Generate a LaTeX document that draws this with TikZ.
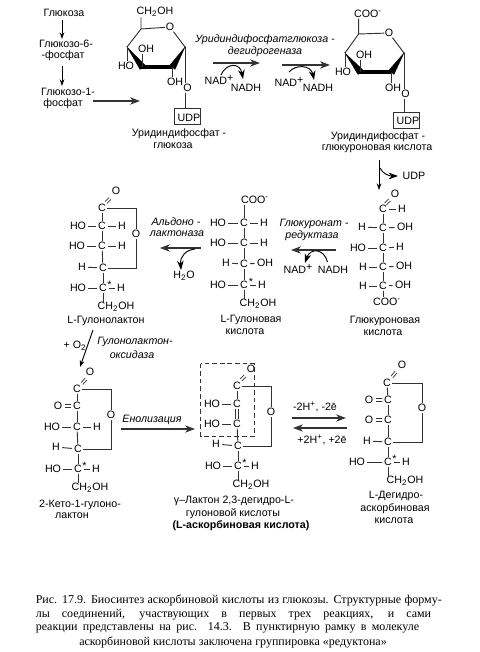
\documentclass[tikz,border=0pt]{standalone}
\usepackage{fontspec}
\setmainfont{Liberation Sans}
\newfontfamily\capfont{Liberation Serif}
\usetikzlibrary{arrows.meta}
\tikzset{
  atom/.style={inner sep=0.4pt,font=\fontsize{8}{9}\selectfont,text=black},
  lbl/.style={inner sep=0pt,font=\fontsize{8}{9}\selectfont,text=black},
  ital/.style={lbl,font=\fontsize{8}{9}\selectfont\itshape},
  capt/.style={inner sep=0pt,anchor=west,font=\capfont\fontsize{9}{10}\selectfont,text=black},
  bond/.style={draw=black!80,line width=0.7pt},
  hb/.style={bond,shorten <=1.2pt,shorten >=1.2pt},
  rxn/.style={draw=black!80,line width=0.8pt,-{Stealth[length=7.5pt,width=5.5pt]}},
  small/.style={draw=black,line width=0.7pt,-{Stealth[length=5pt,width=3.5pt]}},
  curved/.style={draw=black,line width=0.7pt,-{Stealth[length=7pt,width=5pt]}},
  wedge/.style={fill=black,draw=black,line width=0.2pt},
  udpbox/.style={draw=black!80,line width=0.7pt,inner sep=0pt,minimum width=19.5pt,minimum height=12.7pt}
}
\newcommand{\mns}{\textsuperscript{-}}
\newcommand{\pls}{\raisebox{2pt}{+}}
\newcommand{\rvl}[2]{\draw[bond] (#1) -- (#2);}
% horizontal and vertical double bonds between two named atoms
\newcommand{\hdbl}[2]{\draw[hb] ([yshift=0.9pt]#1.east) -- ([yshift=0.9pt]#2.west); \draw[hb] ([yshift=-0.9pt]#1.east) -- ([yshift=-0.9pt]#2.west);}
\newcommand{\vdbl}[2]{\draw[bond] ([xshift=-1pt]#1.south) -- ([xshift=-1pt]#2.north); \draw[bond] ([xshift=1pt]#1.south) -- ([xshift=1pt]#2.north);}
% short carbonyl double bond, from its lower-left point to its upper-right point
\newcommand{\cdbl}[4]{\draw[black!80,line width=0.55pt] (#1-0.9,#2-0.9) -- (#3-0.9,#4-0.9); \draw[black!80,line width=0.55pt] (#1+0.9,#2+0.9) -- (#3+0.9,#4+0.9);}
\begin{document}
\begin{tikzpicture}[x=0.75pt,y=-0.75pt]
\path[use as bounding box,fill=white] (0,0) rectangle (479,652);
% left column
\node[lbl] (g1) at (64,13) {Глюкоза};
\node[lbl] (g2) at (66,44) {Глюкозо-6-};
\node[lbl] (g3) at (63,56) {-фосфат};
\node[lbl] (g4) at (68,92) {Глюкозо-1-};
\node[lbl] (g5) at (63,104) {фосфат};
\coordinate (ar1) at (62,20); \coordinate (ar2) at (62,39);
\coordinate (ar3) at (62,66); \coordinate (ar4) at (62,86);
\coordinate (ar5) at (93,101); \coordinate (ar6) at (140,101);
\draw[small] (ar1) -- (ar2);
\draw[small] (ar3) -- (ar4);
\draw[rxn] (ar5) -- (ar6);
% ring 1
\node[atom] (ch1) at (155,12) {CH\textsubscript{2}OH};
\coordinate (r1a) at (141,29); \coordinate (r1b) at (127,47);
\coordinate (r1c) at (142,67); \coordinate (r1d) at (172,67);
\coordinate (r1e) at (185,47);
\node[atom] (r1o) at (170,27) {O};
\node[atom] (r1oh1) at (146,49) {OH};
\node[atom] (r1ho) at (126,66) {HO};
\node[atom] (r1oh2) at (175,82) {OH};
\node[atom] (r1o2) at (187.5,88) {O};
\node[udpbox] (udp1) at (187,116.5) {};
\node[atom] (udpt1) at (189,118) {UDP};
\draw[bond] (ch1.south -| r1a) -- (r1a) -- (r1o);
\draw[bond] (r1o) -- (r1e);
\draw[bond] (r1a) -- (r1b);
\fill[wedge] (r1b) -- (145,65) -- (140,69.5) -- cycle;
\draw[black,line width=3pt] (141,67) -- (173,67);
\fill[wedge] (r1e) -- (175,69.5) -- (170,65) -- cycle;
\draw[bond] (r1b) -- (r1ho.north -| r1b);
\draw[bond] (r1c) -- (r1oh1.south -| r1c);
\draw[bond] (r1d) -- (r1oh2.north -| r1d);
\draw[bond] (r1e) -- (r1o2.north -| r1e);
\draw[bond] (r1o2.south -| r1e) -- (udp1.north -| r1e);
\node[lbl] (n1) at (179,134) {Уридиндифосфат -};
\node[lbl] (n2) at (173,146) {глюкоза};
% enzyme 1
\node[ital] (e1a) at (265,40) {Уридиндифосфатглюкоза -};
\node[ital] (e1b) at (265,52) {дегидрогеназа};
\coordinate (t1a) at (213,63); \coordinate (t1b) at (260,63);
\coordinate (t2a) at (282,65); \coordinate (t2b) at (330,65);
\draw[rxn] (t1a) -- (t1b);
\draw[rxn] (t2a) -- (t2b);
\node[lbl] (nad1) at (219,80) {NAD\pls};
\node[lbl] (nadh1) at (246,88) {NADH};
\node[lbl] (nad2) at (289,82) {NAD\pls};
\node[lbl] (nadh2) at (318,88) {NADH};
\coordinate (c1a) at (221,75); \coordinate (c1b) at (243,79);
\coordinate (c2a) at (289,72); \coordinate (c2b) at (314,80);
\draw[curved] (c1a) .. controls (226,63) and (240,62) .. (c1b);
\draw[curved] (c2a) .. controls (296,64) and (311,65) .. (c2b);
% ring 2
\node[atom] (coo2) at (368,14) {COO\mns};
\coordinate (r2a) at (358.6,34); \coordinate (r2b) at (345,53);
\coordinate (r2c) at (360,72); \coordinate (r2d) at (391,72);
\coordinate (r2e) at (404,53);
\node[atom] (r2o) at (389,33) {O};
\node[atom] (r2oh1) at (364,55) {OH};
\node[atom] (r2ho) at (343,72) {HO};
\node[atom] (r2oh2) at (393,88) {OH};
\node[atom] (r2o2) at (405.5,94) {O};
\node[udpbox] (udp2) at (406,120.5) {};
\node[atom] (udpt2) at (408,121) {UDP};
\draw[bond] (coo2.south -| r2a) -- (r2a) -- (r2o);
\draw[bond] (r2o) -- (r2e);
\draw[bond] (r2a) -- (r2b);
\fill[wedge] (r2b) -- (363,70) -- (358,74.5) -- cycle;
\draw[black,line width=3pt] (359,72) -- (392,72);
\fill[wedge] (r2e) -- (394,74.5) -- (389,70) -- cycle;
\draw[bond] (r2b) -- (r2ho.north -| r2b);
\draw[bond] (r2c) -- (r2oh1.south -| r2c);
\draw[bond] (r2d) -- (r2oh2.north -| r2d);
\draw[bond] (r2e) -- (r2o2.north -| r2e);
\draw[bond] (r2o2.south -| r2e) -- (udp2.north -| r2e);
\node[lbl] (n3) at (378,137) {Уридиндифосфат -};
\node[lbl] (n4) at (377,149) {глюкуроновая кислота};
% UDP release
\node[lbl] (udp3) at (414,176) {UDP};
\coordinate (d1top) at (379,160); \coordinate (d2top) at (379,190); \coordinate (d3top) at (380,168);
\coordinate (d4top) at (398,176);
\draw[small] (d1top) -- (d2top);
\draw[curved] (d3top) .. controls (383,174) and (389,176) .. (d4top);
% glucuronic acid
\node[atom] (a0o) at (395,194) {O};
\node[atom] (a0) at (383,209) {C};
\node[atom] (a0h) at (402,209) {H};
\node[atom] (a1l) at (362,227) {H};
\node[atom] (a1c) at (383,228) {C};
\node[atom] (a1r) at (405,227) {OH};
\node[atom] (a2l) at (358,248) {HO};
\node[atom] (a2c) at (383,248) {C};
\node[atom] (a2r) at (400,247) {H};
\node[atom] (a3l) at (363,267) {H};
\node[atom] (a3c) at (383,267) {C};
\node[atom] (a3r) at (404,266) {OH};
\node[atom] (a4l) at (363,286) {H};
\node[atom] (a4c) at (383,286) {C};
\node[atom] (a4r) at (403,285) {OH};
\node[atom] (a5) at (387,302) {COO\mns};
\cdbl{385.5}{204}{389.5}{200}
\draw[hb] (a0) -- (a0h);
\foreach \u/\v in {a1l/a1c,a1c/a1r,a2l/a2c,a2c/a2r,a3l/a3c,a3c/a3r,a4l/a4c,a4c/a4r}{\draw[hb] (\u) -- (\v);}
\foreach \u/\v in {a0/a1c,a1c/a2c,a2c/a3c,a3c/a4c}{\rvl{\u}{\v}}
\draw[bond] (a4c) -- (a4c |- a5.north);
\node[lbl] (n5) at (385,321) {Глюкуроновая};
\node[lbl] (n6) at (383,333) {кислота};
% reductase
\node[ital] (e2a) at (314,224) {Глюкуронат -};
\node[ital] (e2b) at (312,236) {редуктаза};
\coordinate (f1a) at (336,250); \coordinate (f2a) at (291,250);
\draw[rxn] (f1a) -- (f2a);
\node[lbl] (nad3) at (298,269) {NAD\pls};
\node[lbl] (nadh3) at (333,270) {NADH};
\coordinate (f3a) at (327.5,262); \coordinate (f4a) at (305,263);
\draw[curved] (f3a) .. controls (324,248) and (310,248) .. (f4a);
% gulonic acid
\node[atom] (b0) at (255,200) {COO\mns};
\node[atom] (b1l) at (218,223) {HO};
\node[atom] (b1c) at (244,223) {C};
\node[atom] (b1r) at (264,223) {H};
\node[atom] (b2l) at (218,243) {HO};
\node[atom] (b2c) at (244,243) {C};
\node[atom] (b2r) at (264,243) {H};
\node[atom] (b3l) at (226,263) {H};
\node[atom] (b3c) at (244,264) {C};
\node[atom] (b3r) at (265,263) {OH};
\node[atom] (b4l) at (218,285) {HO};
\node[atom] (b4c) at (244,285) {C};
\node[atom] (b4r) at (262,285) {H};
\node[atom] (b4s) at (251,282) {*};
\node[atom] (b5) at (258,304) {CH\textsubscript{2}OH};
\foreach \u/\v in {b1l/b1c,b1c/b1r,b2l/b2c,b2c/b2r,b3l/b3c,b3c/b3r,b4l/b4c,b4c/b4r}{\draw[hb] (\u) -- (\v);}
\foreach \u/\v in {b1c/b2c,b2c/b3c,b3c/b4c}{\rvl{\u}{\v}}
\draw[bond] (b0.south -| b1c) -- (b1c);
\draw[bond] (b4c) -- (b4c |- b5.north);
\node[lbl] (n7) at (251,320) {L-Гулоновая};
\node[lbl] (n8) at (245,332) {кислота};
% aldonolactonase
\node[ital] (e3a) at (176,222) {Альдоно -};
\node[ital] (e3b) at (177,234) {лактоназа};
\coordinate (h1) at (201,248); \coordinate (h2) at (160,248);
\draw[rxn] (h1) -- (h2);
\node[lbl] (w1) at (184,276) {H\textsubscript{2}O};
\coordinate (h3) at (195,249); \coordinate (h4) at (181,270);
\draw[curved] (h3) .. controls (186,250) and (180,256) .. (h4);
% gulonolactone
\node[atom] (c0o) at (116,191) {O};
\node[atom] (c0) at (102,208) {C};
\node[atom] (c1l) at (78,226) {HO};
\node[atom] (c1c) at (102,226) {C};
\node[atom] (c1r) at (122,226) {H};
\node[atom] (c2l) at (77,246) {HO};
\node[atom] (c2c) at (102,246) {C};
\node[atom] (c2r) at (122,246) {H};
\node[atom] (c3l) at (82,267) {H};
\node[atom] (c3c) at (103,268) {C};
\node[atom] (co) at (136,234) {O};
\node[atom] (c4l) at (78,288) {HO};
\node[atom] (c4c) at (103,288) {C};
\node[atom] (c4r) at (121,288) {H};
\node[atom] (c4s) at (109.5,285) {*};
\node[atom] (c5) at (116,307) {CH\textsubscript{2}OH};
\cdbl{106}{202.5}{110}{198.5}
\draw[bond] (c0) -| (co);
\draw[bond] (c3c) -| (co);
\foreach \u/\v in {c1l/c1c,c1c/c1r,c2l/c2c,c2c/c2r,c3l/c3c,c4l/c4c,c4c/c4r}{\draw[hb] (\u) -- (\v);}
\foreach \u/\v in {c0/c1c,c1c/c2c,c2c/c3c,c3c/c4c}{\rvl{\u}{\v}}
\draw[bond] (c4c) -- (c4c |- c5.north);
\node[lbl] (n9) at (106,321) {L-Гулонолактон};
% oxidase
\node[lbl] (o2) at (75,346) {+ O\textsubscript{2}};
\node[ital] (e4a) at (135,342) {Гулонолактон-};
\node[ital] (e4b) at (132,355) {оксидаза};
\coordinate (k1) at (93,330); \coordinate (k2) at (80,367);
\draw[small] (k1) -- (k2);
% 2-keto
\node[atom] (d0o) at (90,372) {O};
\node[atom] (d0) at (77,389) {C};
\node[atom] (d1o) at (58,406) {O};
\node[atom] (d1c) at (77,406) {C};
\node[atom] (d2l) at (52,427) {HO};
\node[atom] (d2c) at (77,427) {C};
\node[atom] (d2r) at (97,427) {H};
\node[atom] (d3l) at (56,447) {H};
\node[atom] (d3c) at (78,449) {C};
\node[atom] (do) at (111,415) {O};
\node[atom] (d4l) at (53,469) {HO};
\node[atom] (d4c) at (78,469) {C};
\node[atom] (d4r) at (96,469) {H};
\node[atom] (d4s) at (84.5,466) {*};
\node[atom] (d5) at (90,488) {CH\textsubscript{2}OH};
\cdbl{82}{383.5}{86}{379}
\hdbl{d1o}{d1c}
\draw[bond] (d0) -| (do);
\draw[bond] (d3c) -| (do);
\foreach \u/\v in {d2l/d2c,d2c/d2r,d3l/d3c,d4l/d4c,d4c/d4r}{\draw[hb] (\u) -- (\v);}
\foreach \u/\v in {d0/d1c,d1c/d2c,d2c/d3c,d3c/d4c}{\rvl{\u}{\v}}
\draw[bond] (d4c) -- (d4c |- d5.north);
\node[lbl] (n10) at (80,505) {2-Кето-1-гулоно-};
\node[lbl] (n11) at (72,516) {лактон};
% enolisation
\node[ital] (e5) at (152,420) {Енолизация};
\coordinate (m1) at (121,429); \coordinate (m2) at (195,429);
\draw[rxn] (m1) -- (m2);
% ascorbic
\coordinate (bx1) at (200.5,363.5); \coordinate (bx2) at (254,436);
\draw[black!80,line width=0.7pt,dash pattern=on 3.5pt off 2.2pt] (bx1) rectangle (bx2);
\node[atom] (f0o) at (251,369) {O};
\node[atom] (f0) at (237,386) {C};
\node[atom] (f1l) at (212,404) {HO};
\node[atom] (f1c) at (237,404) {C};
\node[atom] (f2l) at (212,424) {HO};
\node[atom] (f2c) at (237,424) {C};
\node[atom] (f3l) at (216,444) {H};
\node[atom] (f3c) at (238,446) {C};
\node[atom] (fo) at (271,412) {O};
\node[atom] (f4l) at (213,466) {HO};
\node[atom] (f4c) at (238,466) {C};
\node[atom] (f4r) at (255,466) {H};
\node[atom] (f4s) at (244.5,463) {*};
\node[atom] (f5) at (251,485) {CH\textsubscript{2}OH};
\cdbl{241}{380}{245}{376}
\vdbl{f1c}{f2c}
\draw[bond] (f0) -| (fo);
\draw[bond] (f3c) -| (fo);
\foreach \u/\v in {f1l/f1c,f2l/f2c,f3l/f3c,f4l/f4c,f4c/f4r}{\draw[hb] (\u) -- (\v);}
\foreach \u/\v in {f0/f1c,f2c/f3c,f3c/f4c}{\rvl{\u}{\v}}
\draw[bond] (f4c) -- (f4c |- f5.north);
\node[lbl] (n12) at (234,501) {γ–Лактон 2,3-дегидро-L-};
\node[lbl] (n13) at (233,514) {гулоновой кислоты};
\node[lbl,font=\fontsize{8}{9}\selectfont\bfseries] (n14) at (241,526) {(L-аскорбиновая кислота)};
% redox
\node[lbl] (t1) at (315,407) {-2H\textsuperscript{+}, -2ē};
\node[lbl] (t2) at (322,440) {+2H\textsuperscript{+}, +2ē};
\coordinate (p1) at (292,418); \coordinate (p2) at (346,418);
\coordinate (p3) at (347,428); \coordinate (p4) at (293,428);
\draw[rxn] (p1) -- (p2);
\draw[rxn] (p3) -- (p4);
% dehydroascorbic
\node[atom] (q0o) at (402,365) {O};
\node[atom] (q0) at (387,383) {C};
\node[atom] (q1o) at (369,400) {O};
\node[atom] (q1c) at (388,400) {C};
\node[atom] (q2o) at (369,420) {O};
\node[atom] (q2c) at (388,420) {C};
\node[atom] (q3l) at (367,441) {H};
\node[atom] (q3c) at (388,442) {C};
\node[atom] (qo) at (422,408) {O};
\node[atom] (q4l) at (357,462) {HO};
\node[atom] (q4c) at (388,462) {C};
\node[atom] (q4r) at (406,462) {H};
\node[atom] (q4s) at (394.5,459) {*};
\node[atom] (q5) at (405,481) {CH\textsubscript{2}OH};
\cdbl{392}{377}{396}{372}
\hdbl{q1o}{q1c}
\hdbl{q2o}{q2c}
\draw[bond] (q0) -| (qo);
\draw[bond] (q3c) -| (qo);
\foreach \u/\v in {q3l/q3c,q4l/q4c,q4c/q4r}{\draw[hb] (\u) -- (\v);}
\foreach \u/\v in {q0/q1c,q1c/q2c,q2c/q3c,q3c/q4c}{\rvl{\u}{\v}}
\draw[bond] (q4c) -- (q4c |- q5.north);
\node[lbl] (n15) at (396,496) {L-Дегидро-};
\node[lbl] (n16) at (395,509) {аскорбиновая};
\node[lbl] (n17) at (394,521) {кислота};
% caption
\node[capt] (cap1) at (35.5,600) {\makebox[304.5pt][s]{Рис. 17.9. Биосинтез аскорбиновой кислоты из глюкозы. Структурные форму-}};
\node[capt] (cap2) at (35.5,615) {\makebox[296.5pt][s]{лы соединений, участвующих в первых трех реакциях, и сами}};
\node[capt] (cap3) at (35.5,628) {\makebox[287.5pt][s]{реакции представлены на рис. 14.3. В пунктирную рамку в молекуле}};
\node[capt,anchor=center] (cap4) at (233,642) {аскорбиновой кислоты заключена группировка «редуктона»};
\end{tikzpicture}
\end{document}
